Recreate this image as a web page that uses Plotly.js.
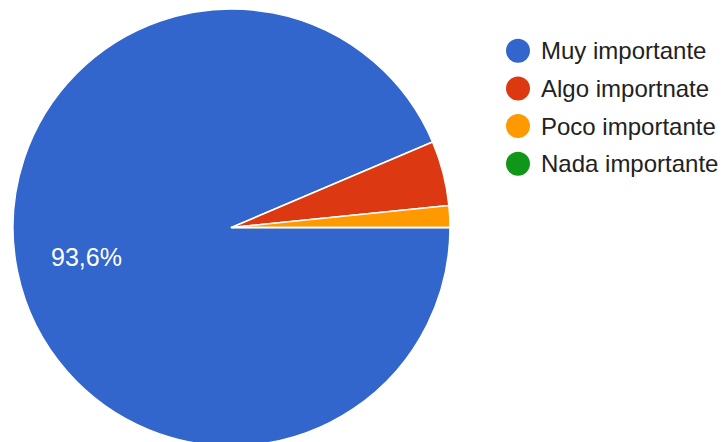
<!DOCTYPE html>
<html>
<head>
<meta charset="utf-8">
<script src="https://cdn.plot.ly/plotly-3.0.1.min.js"></script>
<style>html,body{margin:0;padding:0;overflow:hidden;background:#fff;}#chart{width:723px;height:446px;}</style>
</head>
<body>
<div id="chart"></div>
<script>
var categories = ["Muy importante", "Algo importnate", "Poco importante", "Nada importante"];
var counts = [117, 6, 2, 0];
var sliceLabels = ["93,6%", "", "", ""];
var colors = ["#3366cc", "#dc3912", "#ff9900", "#109618"];

var W = 723, H = 446, T = 9;
var FONT = "Liberation Sans, Arial, sans-serif";
var dom = {x: [13 / W, 450 / W], y: [0, 1]};

var trace = {
  type: "pie",
  labels: categories,
  values: counts,
  textinfo: "none",
  sort: false,
  direction: "clockwise",
  rotation: 90,
  marker: {colors: colors, line: {color: "#ffffff", width: 1.5}},
  domain: dom,
  showlegend: false,
  hoverinfo: "label+percent"
};

var shapes = [], annotations = [];

// slice labels placed at each slice's mid-angle (Google-style), derived from the data
var total = counts.reduce(function (a, b) { return a + b; }, 0);
var cxPx = (dom.x[0] + dom.x[1]) / 2 * W;
var cyPx = T + (H - T) / 2;
var rPx = (H - T) / 2;
var cum = 0;
counts.forEach(function (v, i) {
  var mid = (cum + v / 2) / total * 2 * Math.PI; // clockwise from 3 o'clock
  cum += v;
  if (!sliceLabels[i]) return;
  var px = cxPx + 0.675 * rPx * Math.cos(mid);
  var py = cyPx + 0.675 * rPx * Math.sin(mid);
  annotations.push({
    xref: "paper", yref: "paper",
    x: px / W, y: (H - py) / (H - T),
    xanchor: "center", yanchor: "middle",
    text: sliceLabels[i], showarrow: false,
    font: {family: FONT, size: 25, color: "#ffffff"}
  });
});

var legX = 518, legY0 = 50.7, legStep = 37.7;
categories.forEach(function (c, i) {
  var py = legY0 + i * legStep;
  var yp = (H - py) / (H - T);
  shapes.push({
    type: "circle", xref: "paper", yref: "paper",
    xsizemode: "pixel", ysizemode: "pixel",
    xanchor: legX / W, yanchor: yp,
    x0: -12, x1: 12, y0: -12, y1: 12,
    fillcolor: colors[i], line: {width: 0}
  });
  annotations.push({
    xref: "paper", yref: "paper",
    x: 539 / W, y: yp, xanchor: "left", yanchor: "middle",
    text: c, showarrow: false,
    font: {family: FONT, size: 24, color: "#222222"}
  });
});

var layout = {
  width: W, height: H,
  margin: {l: 0, r: 0, t: T, b: 0, pad: 0},
  paper_bgcolor: "#ffffff",
  shapes: shapes,
  annotations: annotations,
  font: {family: FONT}
};

Plotly.newPlot("chart", [trace], layout, {displayModeBar: false, staticPlot: true});
</script>
</body>
</html>
